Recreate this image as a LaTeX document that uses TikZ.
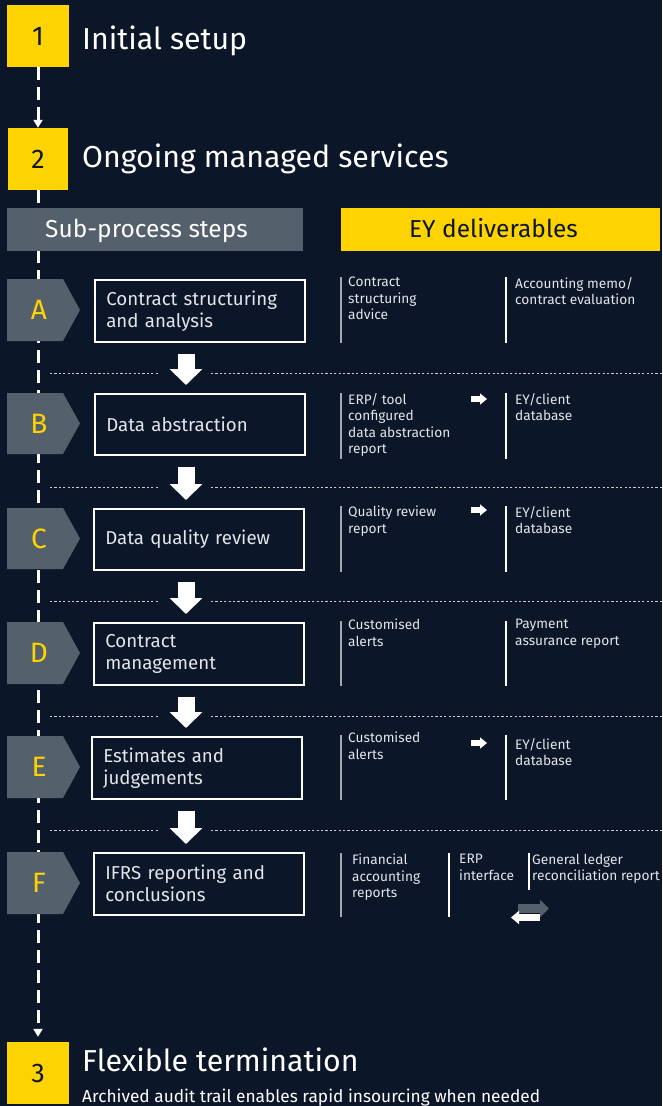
\documentclass[tikz,border=0pt]{standalone}
\usepackage{fontspec}
\setmainfont{Fira Sans}
\usetikzlibrary{arrows.meta}
\definecolor{bgnavy}{HTML}{0B1628}
\definecolor{eyyellow}{HTML}{FFD300}
\definecolor{eygray}{HTML}{54606C}
\definecolor{txtlight}{HTML}{E2E5E9}
\definecolor{rulegray}{HTML}{A3A9AF}
\definecolor{dotgray}{HTML}{C8CDD2}
\newcommand\stepflag[2]{\fill[eygray] (7,#1) -- (63,#1) -- (80,{#1+#2/2}) -- (63,{#1+#2}) -- (7,{#1+#2}) -- cycle;}
\begin{document}
\begin{tikzpicture}[x=1pt,y=-1pt,
  numbox/.style={fill=eyyellow, minimum width=62pt, minimum height=62pt, inner sep=0pt, text=bgnavy, font=\fontsize{27}{27}\selectfont},
  phasetitle/.style={anchor=base west, inner sep=0pt, text=white, font=\fontsize{30.3}{31}\selectfont},
  flowline/.style={white, line width=3pt, dash pattern=on 13pt off 7pt, -{Triangle[width=9pt,length=8pt]}},
  stepbox/.style={draw=white, line width=1.6pt, fill=bgnavy, minimum width=210pt, minimum height=62pt, text width=187pt, inner xsep=11.5pt, align=left, text=txtlight, font=\fontsize{18.7}{22}\selectfont, anchor=north west},
  letter/.style={text=eyyellow, font=\fontsize{28}{28}\selectfont, inner sep=0pt},
  hdr/.style={minimum height=43pt, inner sep=0pt, anchor=north west},
  hdrtext/.style={anchor=base, inner sep=0pt, font=\fontsize{24.5}{25}\selectfont},
  downarrow/.style={white, line width=17pt, -{Triangle[width=32pt,length=16pt]}, shorten <=11pt, shorten >=8pt},
  sep/.style={dotgray, line width=0.9pt, dash pattern=on 2.2pt off 2.2pt},
  deltext/.style={anchor=north west, inner sep=0pt, align=left, text=txtlight, font=\fontsize{13.7}{16.5}\selectfont},
  ruleA/.style={rulegray, line width=1.5pt},
  ruleB/.style={white, line width=1.5pt},
  smallarrow/.style={white, line width=6pt, -{Triangle[width=11pt,length=7pt]}}
]
\fill[bgnavy] (0,0) rectangle (662,1106);
\useasboundingbox (0,0) rectangle (662,1106);

% phases
\node[numbox] (n1) at (38,36) {1};
\node[phasetitle] (t1) at (82,49) {Initial setup};
\node[numbox, minimum width=60pt] (n2) at (38,159) {2};
\node[phasetitle] (t2) at (82,167) {Ongoing managed services};
\node[numbox] (n3) at (38,1073) {3};
\node[phasetitle] (t3) at (82,1071) {Flexible termination};
\node[anchor=base west, inner sep=0pt, text=white, font=\fontsize{17.3}{18}\selectfont] (t3s) at (82,1102) {Archived audit trail enables rapid insourcing when needed};

\draw[flowline] (n1.south) -- (n2.north);
\draw[flowline, shorten >=5pt] (n2.south) -- (n3.north);

% headers
\node[hdr, fill=eygray, minimum width=296pt] (hsub) at (7,208) {};
\node[hdrtext, text=white] (hsubt) at (146.5,237) {Sub-process steps};
\node[hdr, fill=eyyellow, minimum width=319pt] (hey) at (341,208) {};
\node[hdrtext, text=bgnavy] (heyt) at (493.5,237) {EY deliverables};

% flags
\stepflag{279}{62}
\stepflag{393}{61}
\stepflag{508}{61}
\stepflag{622}{62}
\stepflag{736}{62}
\stepflag{852}{62}
\node[letter] (lA) at (39,310) {A};
\node[letter] (lB) at (39,423.5) {B};
\node[letter] (lC) at (39,538.5) {C};
\node[letter] (lD) at (39,653) {D};
\node[letter] (lE) at (39,767) {E};
\node[letter] (lF) at (39,883) {F};

% step boxes
\node[stepbox] (bA) at (94,279) {Contract structuring\\and analysis};
\node[stepbox, minimum height=61pt] (bB) at (94,393) {Data abstraction};
\node[stepbox, minimum height=61pt] (bC) at (93,508) {Data quality review};
\node[stepbox] (bD) at (93,622) {Contract\\management};
\node[stepbox] (bE) at (91,736) {Estimates and\\judgements};
\node[stepbox] (bF) at (93,852) {IFRS reporting and\\conclusions};

% separators
\foreach \yy in {373,487,601,716,830}{
  \draw[sep] (50,\yy) -- (159,\yy);
  \draw[sep] (211,\yy) -- (662,\yy);
}

% flow arrows
\coordinate (ax) at (186,0);
\draw[downarrow] (bA.south -| ax) -- (bB.north -| ax);
\draw[downarrow] (bB.south -| ax) -- (bC.north -| ax);
\draw[downarrow] (bC.south -| ax) -- (bD.north -| ax);
\draw[downarrow] (bD.south -| ax) -- (bE.north -| ax);
\draw[downarrow] (bE.south -| ax) -- (bF.north -| ax);

% deliverables A
\draw[ruleA] (341,277) -- (341,343);
\draw[ruleB] (506,277) -- (506,343);
\node[deltext] (dA1) at (348,277) {Contract\\structuring\\advice};
\node[deltext] (dA2) at (515,277) {Accounting memo/\\contract evaluation};
% B
\draw[ruleA] (341,393) -- (341,459);
\draw[ruleB] (506,393) -- (506,459);
\node[deltext] (dB1) at (348,393) {ERP/ tool\\configured\\data abstraction\\report};
\node[deltext] (dB2) at (515,393) {EY/client\\database};
\coordinate (sB1) at (471,399); \coordinate (sB2) at (487,399);
\draw[smallarrow] (sB1) -- (sB2);
% C
\draw[ruleA] (341,506) -- (341,572);
\draw[ruleB] (506,506) -- (506,572);
\node[deltext] (dC1) at (348,506) {Quality review\\report};
\node[deltext] (dC2) at (515,506) {EY/client\\database};
\coordinate (sC1) at (471,510); \coordinate (sC2) at (487,510);
\draw[smallarrow] (sC1) -- (sC2);
% D
\draw[ruleA] (341,621) -- (341,686);
\draw[ruleB] (506,621) -- (506,686);
\node[deltext] (dD1) at (348,619) {Customised\\alerts};
\node[deltext] (dD2) at (515,619) {Payment\\assurance report};
% E
\draw[ruleA] (341,735) -- (341,800);
\draw[ruleB] (506,735) -- (506,800);
\node[deltext] (dE1) at (348,732) {Customised\\alerts};
\node[deltext] (dE2) at (515,738) {EY/client\\database};
\coordinate (sE1) at (471,743); \coordinate (sE2) at (487,743);
\draw[smallarrow] (sE1) -- (sE2);
% F
\draw[ruleA] (341,853) -- (341,917);
\draw[ruleB] (449,853) -- (449,917);
\draw[ruleB] (529,853) -- (529,890);
\node[deltext] (dF1) at (352,854) {Financial\\accounting\\reports};
\node[deltext] (dF2) at (459,854) {ERP\\interface};
\node[deltext] (dF3) at (532,854) {General ledger\\reconciliation report};
\coordinate (gF1) at (518,908.5); \coordinate (gF2) at (549,908.5);
\draw[eygray, line width=9pt, -{Triangle[width=17pt,length=9pt]}] (gF1) -- (gF2);
\coordinate (wF1) at (540,917.5); \coordinate (wF2) at (511,917.5);
\draw[white, line width=7pt, -{Triangle[width=13pt,length=8pt]}] (wF1) -- (wF2);
\end{tikzpicture}
\end{document}
